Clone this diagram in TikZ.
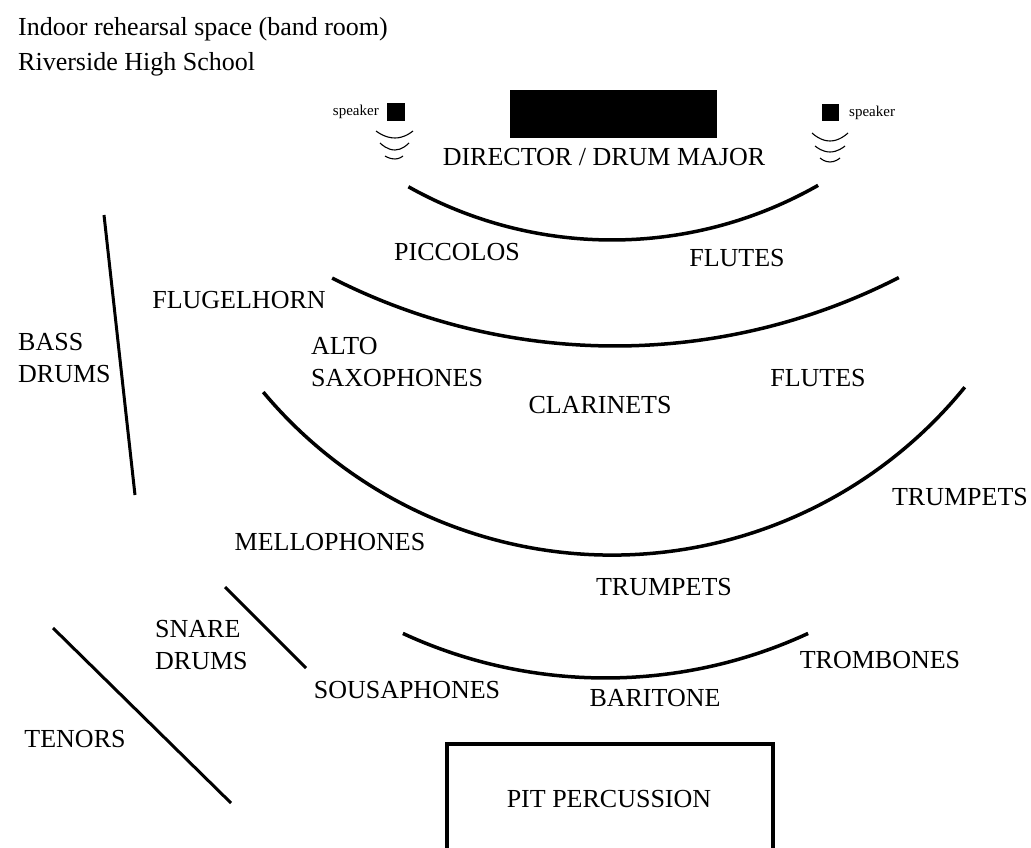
\documentclass[tikz,border=0pt]{standalone}
\usepackage{fontspec}
\setmainfont{Liberation Serif}
\begin{document}
\begin{tikzpicture}[x=1pt,y=-1pt,
  lbl/.style={inner sep=0pt,font=\fontsize{26}{32}\selectfont},
  ttl/.style={inner sep=0pt,anchor=base west,font=\fontsize{26}{32}\selectfont},
  spk/.style={inner sep=0pt,font=\fontsize{15}{17}\selectfont},
  row/.style={line width=3.5pt},
  wave/.style={line width=1.1pt},
  riser/.style={line width=3pt}]
\useasboundingbox (0,0) rectangle (1031,848);
% title
\node[ttl] (t1) at (18,36) {Indoor rehearsal space (band room)};
\node[ttl] (t2) at (18,71) {Riverside High School};
% director podium and speakers
\fill (510,90) rectangle (717,138);
\fill (387,103) rectangle (405,121);
\fill (822,104) rectangle (839,121);
\node[spk,anchor=east] (spkL) at (379,112) {speaker};
\node[spk,anchor=west] (spkR) at (849,113) {speaker};
\draw[wave] (376,131) parabola bend (395,138) (413,131);
\draw[wave] (380,143) parabola bend (395,150) (409,143);
\draw[wave] (385,156) parabola bend (395,159) (403,156);
\draw[wave] (812,133) parabola bend (830,141) (848,133);
\draw[wave] (815,146) parabola bend (830,152) (845,146);
\draw[wave] (820,158) parabola bend (830,162) (840,158);
% rows (circular arcs)
\draw[row] (612,-176) ++(119.3:416) arc[start angle=119.3,end angle=60.3,radius=416];
\draw[row] (615,-277) ++(117.0:623) arc[start angle=117.0,end angle=62.9,radius=623];
\draw[row] (612,100.5) ++(140.1:454.6) arc[start angle=140.1,end angle=39.1,radius=454.6];
\draw[row] (605.5,195) ++(114.8:483) arc[start angle=114.8,end angle=65.2,radius=483];
% battery lines
\draw[riser] (104,215) -- (135,495);
\draw[riser] (225,587) -- (306,668);
\draw[riser] (53,628) -- (231,803);
% pit box
\draw[line width=3.5pt] (447,849) -- (447,744) -- (773,744) -- (773,849);
% labels
\node[lbl] (dir) at (604,157) {DIRECTOR / DRUM MAJOR};
\node[lbl] (picc) at (457,252) {PICCOLOS};
\node[lbl] (fl1) at (737,258) {FLUTES};
\node[lbl] (flug) at (239,300) {FLUGELHORN};
\node[lbl,align=left,anchor=west] (alto) at (311,362) {ALTO\\SAXOPHONES};
\node[lbl] (fl2) at (818,378) {FLUTES};
\node[lbl] (clar) at (600,405) {CLARINETS};
\node[lbl,align=left,anchor=west] (bass) at (18,358) {BASS\\DRUMS};
\node[lbl] (tr1) at (960,497) {TRUMPETS};
\node[lbl] (mell) at (330,542) {MELLOPHONES};
\node[lbl] (tr2) at (664,587) {TRUMPETS};
\node[lbl,align=left,anchor=west] (snare) at (155,645) {SNARE\\DRUMS};
\node[lbl] (trom) at (880,660) {TROMBONES};
\node[lbl] (sous) at (407,690) {SOUSAPHONES};
\node[lbl] (bari) at (655,698) {BARITONE};
\node[lbl] (ten) at (75,739) {TENORS};
\node[lbl] (pit) at (609,799) {PIT PERCUSSION};
\end{tikzpicture}
\end{document}
